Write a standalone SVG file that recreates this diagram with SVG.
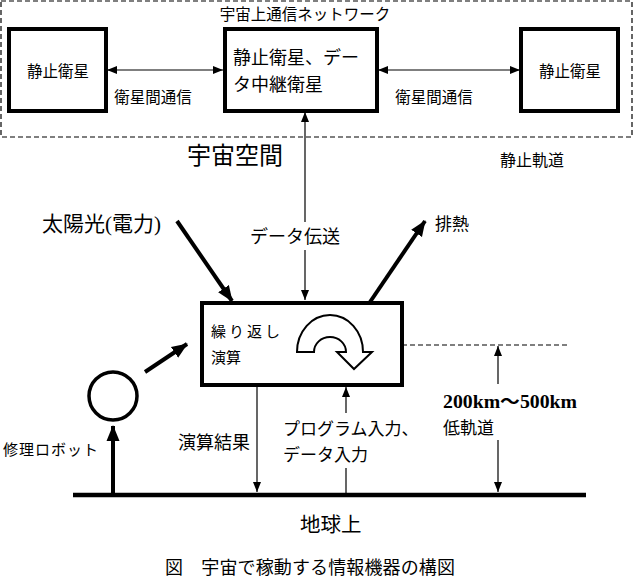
<svg xmlns="http://www.w3.org/2000/svg" width="635" height="584" viewBox="0 0 635 584">
<style>
text{font-family:"Liberation Serif","Noto Sans CJK JP",serif;fill:#000}
.box{fill:#fff;stroke:#000;stroke-width:4}
.thin{stroke:#000;stroke-width:1.2;fill:none}
.thick{stroke:#000;stroke-width:4;fill:none}
.dash{stroke:#000;stroke-width:1.2;fill:none;stroke-dasharray:5,3}
</style>
<defs>
<marker id="ah" markerUnits="userSpaceOnUse" markerWidth="10" markerHeight="10" viewBox="0 0 10 10" refX="10" refY="5" orient="auto-start-reverse"><path d="M0,1 L10,5 L0,9 Z" fill="#000"/></marker>
<marker id="ahb" markerUnits="userSpaceOnUse" markerWidth="16" markerHeight="16" viewBox="0 0 16 16" refX="15" refY="8" orient="auto"><path d="M0,1.5 L16,8 L0,14.5 Z" fill="#000"/></marker>
</defs>
<rect x="1" y="1" width="631" height="136" class="dash"/>
<text x="305" y="20" font-size="15.5" text-anchor="middle">宇宙上通信ネットワーク</text>
<g id="connectors">
<line x1="107" y1="70" x2="223" y2="70" class="thin" marker-start="url(#ah)" marker-end="url(#ah)"/>
<line x1="378" y1="70" x2="520" y2="70" class="thin" marker-start="url(#ah)" marker-end="url(#ah)"/>
<line x1="305" y1="112" x2="305" y2="222" class="thin" marker-start="url(#ah)"/>
<line x1="305" y1="250" x2="305" y2="300" class="thin" marker-end="url(#ah)"/>
<line x1="177" y1="221" x2="232" y2="301" class="thick" marker-end="url(#ahb)"/>
<line x1="370" y1="302" x2="425" y2="221" class="thick" stroke-width="3.5" marker-end="url(#ahb)"/>
<line x1="145" y1="372" x2="187" y2="344" class="thick" stroke-width="3.5" marker-end="url(#ahb)"/>
<line x1="113" y1="493" x2="113" y2="426" class="thick" stroke-width="3.5" marker-end="url(#ahb)"/>
<line x1="257" y1="386" x2="257" y2="492" class="thin" marker-end="url(#ah)"/>
<line x1="346" y1="413" x2="346" y2="387" class="thin" marker-end="url(#ah)"/>
<line x1="346" y1="468" x2="346" y2="493" class="thin"/>
<line x1="402" y1="345" x2="567" y2="345" class="dash"/>
<line x1="498" y1="384" x2="498" y2="346" class="thin" marker-end="url(#ah)"/>
<line x1="498" y1="440" x2="498" y2="492" class="thin" marker-end="url(#ah)"/>
<line x1="73" y1="495" x2="586" y2="495" stroke="#000" stroke-width="4.5"/>
</g>
<text x="153" y="103" font-size="15.5" text-anchor="middle">衛星間通信</text>
<text x="434" y="103" font-size="15.5" text-anchor="middle">衛星間通信</text>
<g id="sat-left"><rect x="9" y="29" width="97" height="82" class="box"/><text x="58" y="77" font-size="15.5" text-anchor="middle">静止衛星</text></g>
<g id="sat-relay"><rect x="225" y="29" width="152" height="82" class="box"/><text x="233" y="64" font-size="18">静止衛星、デー</text><text x="233" y="91" font-size="18">タ中継衛星</text></g>
<g id="sat-right"><rect x="521" y="29" width="97" height="82" class="box"/><text x="570" y="77" font-size="15.5" text-anchor="middle">静止衛星</text></g>
<text x="187" y="164" font-size="24">宇宙空間</text>
<text x="500" y="166" font-size="16">静止軌道</text>
<text x="42" y="231" font-size="21">太陽光(電力)</text>
<text x="250" y="243" font-size="18">データ伝送</text>
<text x="435" y="230" font-size="17">排熱</text>
<g id="compute"><rect x="202" y="303" width="200" height="82" class="box"/>
<text x="211" y="337" font-size="15" letter-spacing="3">繰り返し</text>
<text x="211" y="363" font-size="15">演算</text>
<path d="M297,352 A33,37 0 0 1 363,352 L372,352 L354,369 L337,352 L346,352 A16,15 0 0 0 314,352 Z" fill="#fff" stroke="#000" stroke-width="2"/></g>
<g id="robot"><circle cx="113" cy="396" r="24" fill="#fff" stroke="#000" stroke-width="3.5"/></g>
<text x="3" y="455" font-size="15" letter-spacing="1">修理ロボット</text>
<text x="178" y="449" font-size="18">演算結果</text>
<text x="283" y="435" font-size="17">プログラム入力、</text>
<text x="283" y="461" font-size="17">データ入力</text>
<text x="443" y="408" font-size="18" font-weight="bold" textLength="134" lengthAdjust="spacingAndGlyphs">200km～500km</text>
<text x="443" y="434" font-size="17">低軌道</text>
<text x="300" y="532" font-size="20.5">地球上</text>
<text x="165" y="574" font-size="18" textLength="290">図　宇宙で稼動する情報機器の構図</text>
</svg>
